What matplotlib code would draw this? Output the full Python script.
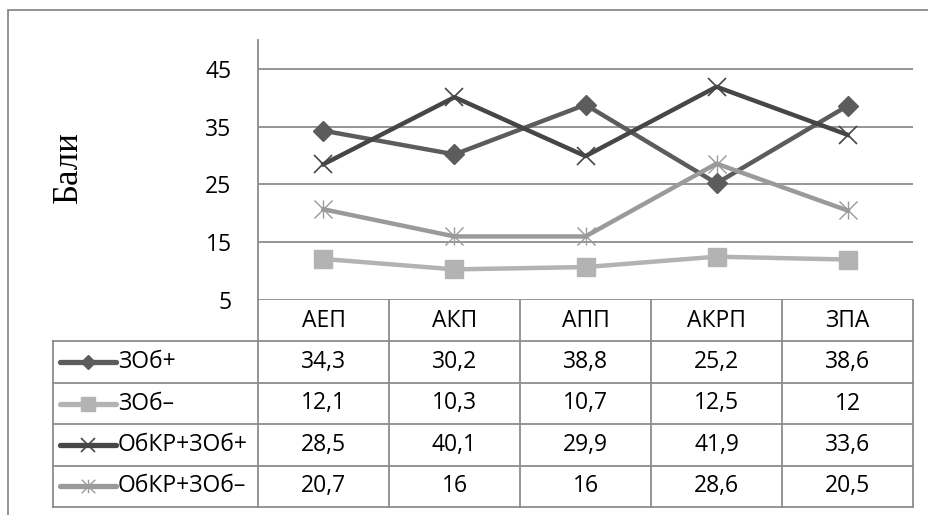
import matplotlib
matplotlib.use("Agg")
import matplotlib.pyplot as plt
from matplotlib.path import Path
from matplotlib.patches import Rectangle

plt.rcParams['font.family'] = ['Open Sans', 'DejaVu Sans']

categories = ['АЕП', 'АКП', 'АПП', 'АКРП', 'ЗПА']
series_names = ['ЗОб+', 'ЗОб–', 'ОбКР+ЗОб+', 'ОбКР+ЗОб–']
zob_plus = [34.3, 30.2, 38.8, 25.2, 38.6]
zob_minus = [12.1, 10.3, 10.7, 12.5, 12]
obkr_zob_plus = [28.5, 40.1, 29.9, 41.9, 33.6]
obkr_zob_minus = [20.7, 16, 16, 28.6, 20.5]
cell_labels = [['34,3', '30,2', '38,8', '25,2', '38,6'],
               ['12,1', '10,3', '10,7', '12,5', '12'],
               ['28,5', '40,1', '29,9', '41,9', '33,6'],
               ['20,7', '16', '16', '28,6', '20,5']]
y_ticks = [5, 15, 25, 35, 45]

star = Path([(-1, -1), (1, 1), (-1, 1), (1, -1), (0, -1), (0, 1)],
            [Path.MOVETO, Path.LINETO, Path.MOVETO, Path.LINETO, Path.MOVETO, Path.LINETO])

styles = [
    dict(color='#5c5c5c', marker='D', ms=10, mfc='#5c5c5c', mec='#5c5c5c'),
    dict(color='#b3b3b3', marker='s', ms=13, mfc='#b3b3b3', mec='#b3b3b3'),
    dict(color='#464646', marker='x', ms=13, mec='#464646', mew=1.2),
    dict(color='#9a9a9a', marker=star, ms=13, mfc='none', mec='#9a9a9a', mew=1.0),
]
series = [zob_plus, zob_minus, obkr_zob_plus, obkr_zob_minus]

W, H = 929, 515
grid_c = '#8c8c8c'
fsz = 16.5
fig = plt.figure(figsize=(W / 100, H / 100), dpi=100)

# outer chart frame (only top and left edges are inside the picture)
fig.add_artist(Rectangle((8 / W, -0.2), 1.2, 1.2 - 10 / H, transform=fig.transFigure,
                         fill=False, ec='#8a8a8a', lw=1.3))

ax = fig.add_axes([258 / W, 1 - 300 / H, (913 - 258) / W, (300 - 40) / H])
xs = [i + 0.5 for i in range(len(categories))]
for vals, st in zip(series, styles):
    ax.plot(xs, vals, lw=3.2, solid_joinstyle='round', **st)
ax.set_xlim(0, len(categories))
ax.set_ylim(5, 50)
ax.set_yticks(y_ticks)
ax.yaxis.grid(True, color=grid_c, lw=1.3)
ax.set_axisbelow(True)
ax.set_xticks([])
ax.tick_params(axis='y', length=0, pad=19, labelsize=fsz)
for s in ['top', 'right', 'bottom']:
    ax.spines[s].set_visible(False)
ax.spines['left'].set_color(grid_c)
ax.spines['left'].set_linewidth(1.3)

fig.text(68 / W, 1 - 167 / H, 'Бали', rotation=90, ha='center', va='center',
         fontsize=25, family=['Liberation Serif', 'DejaVu Serif'])

# data table under the plot
lab_w = (258 - 53) / 131
tax = fig.add_axes([53 / W, 1 - 507 / H, (913 - 53) / W, (507 - 300) / H])
tax.set_xlim(-lab_w, len(categories))
tax.set_ylim(len(series) + 1, 0)
tax.axis('off')
n = len(categories)
nr = len(series) + 1
for r in range(1, nr + 1):
    tax.plot([-lab_w, n], [r, r], color=grid_c, lw=1.3, clip_on=False)
for c in range(n + 1):
    tax.plot([c, c], [0, nr], color=grid_c, lw=1.3, clip_on=False)
tax.plot([-lab_w, -lab_w], [1, nr], color=grid_c, lw=1.3, clip_on=False)

for i, cat in enumerate(categories):
    tax.text(i + 0.5, 0.5, cat, ha='center', va='center', fontsize=fsz)
for r, (name, st) in enumerate(zip(series_names, styles)):
    y = r + 1.5
    x0, x1 = (60 - 258) / 131, (116 - 258) / 131
    tax.plot([x0, x1], [y, y], color=st['color'], lw=3.8, solid_capstyle='round')
    mst = {k: v for k, v in st.items() if k != 'color'}
    mst['ms'] = st['ms'] * 0.75
    tax.plot([(x0 + x1) / 2], [y], ls='none', **mst)
    tax.text((118 - 258) / 131, y, name, ha='left', va='center', fontsize=fsz)
    for i in range(n):
        tax.text(i + 0.5, y, cell_labels[r][i], ha='center', va='center', fontsize=fsz)

fig.savefig('out.png', dpi=100)
